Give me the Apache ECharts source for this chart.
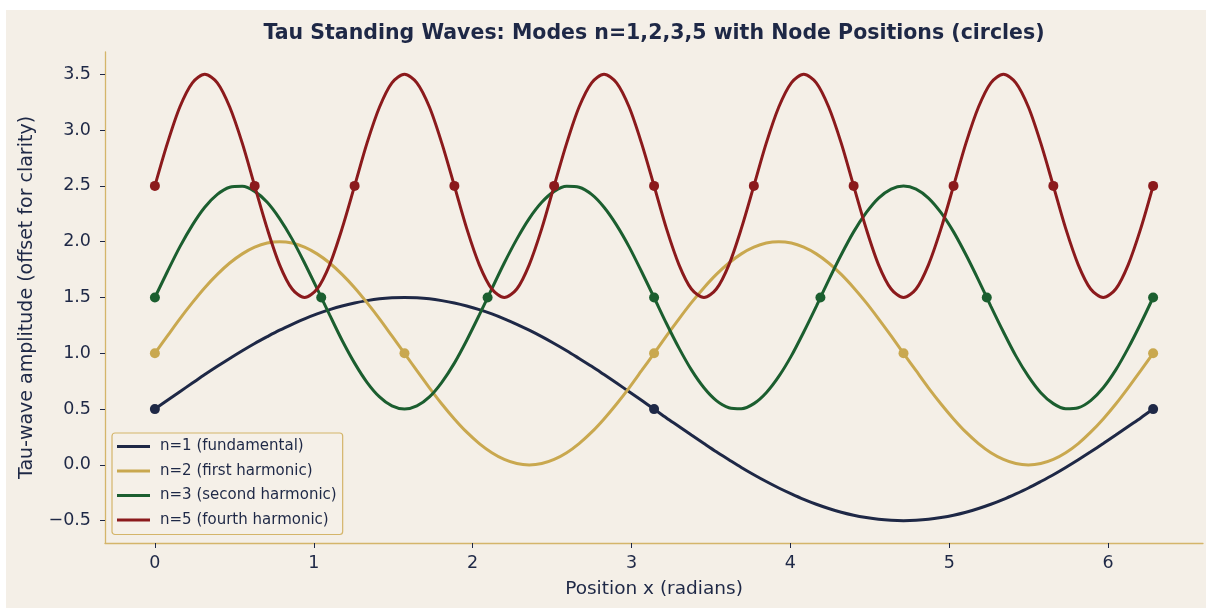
<!DOCTYPE html>
<html>
<head>
<meta charset="utf-8">
<script src="https://cdn.jsdelivr.net/npm/echarts@6/dist/echarts.min.js"></script>
<style>
html,body{margin:0;padding:0;background:#ffffff;}
#chart{position:absolute;left:6px;top:10px;width:1200px;height:598px;}
</style>
</head>
<body>
<div id="chart"></div>
<script>
// Sample positions (radians)
const xs = [0, 0.079, 0.157, 0.236, 0.314, 0.393, 0.471, 0.550, 0.628, 0.707,
  0.785, 0.864, 0.942, 1.021, 1.100, 1.178, 1.257, 1.335, 1.414, 1.492,
  1.571, 1.649, 1.728, 1.806, 1.885, 1.963, 2.042, 2.121, 2.199, 2.278,
  2.356, 2.435, 2.513, 2.592, 2.670, 2.749, 2.827, 2.906, 2.985, 3.063,
  3.142, 3.220, 3.299, 3.377, 3.456, 3.534, 3.613, 3.691, 3.770, 3.848,
  3.927, 4.006, 4.084, 4.163, 4.241, 4.320, 4.398, 4.477, 4.555, 4.634,
  4.712, 4.791, 4.869, 4.948, 5.027, 5.105, 5.184, 5.262, 5.341, 5.419,
  5.498, 5.576, 5.655, 5.733, 5.812, 5.890, 5.969, 6.048, 6.126, 6.205, 6.283];

const n1 = [0.5, 0.579, 0.656, 0.733, 0.809, 0.883, 0.954, 1.023, 1.088, 1.149,
  1.207, 1.260, 1.309, 1.353, 1.391, 1.424, 1.451, 1.472, 1.488, 1.497,
  1.5, 1.497, 1.488, 1.472, 1.451, 1.424, 1.391, 1.353, 1.309, 1.260,
  1.207, 1.149, 1.088, 1.023, 0.954, 0.883, 0.809, 0.733, 0.656, 0.579,
  0.5, 0.421, 0.344, 0.267, 0.191, 0.117, 0.046, -0.023, -0.088, -0.149,
  -0.207, -0.260, -0.309, -0.353, -0.391, -0.424, -0.451, -0.472, -0.488, -0.497,
  -0.5, -0.497, -0.488, -0.472, -0.451, -0.424, -0.391, -0.353, -0.309, -0.260,
  -0.207, -0.149, -0.088, -0.023, 0.046, 0.117, 0.191, 0.267, 0.344, 0.421, 0.5];

const n2 = [1, 1.156, 1.309, 1.454, 1.588, 1.707, 1.809, 1.891, 1.951, 1.988,
  2, 1.988, 1.951, 1.891, 1.809, 1.707, 1.588, 1.454, 1.309, 1.156,
  1, 0.844, 0.691, 0.546, 0.412, 0.293, 0.191, 0.109, 0.049, 0.012,
  0, 0.012, 0.049, 0.109, 0.191, 0.293, 0.412, 0.546, 0.691, 0.844,
  1, 1.156, 1.309, 1.454, 1.588, 1.707, 1.809, 1.891, 1.951, 1.988,
  2, 1.988, 1.951, 1.891, 1.809, 1.707, 1.588, 1.454, 1.309, 1.156,
  1, 0.844, 0.691, 0.546, 0.412, 0.293, 0.191, 0.109, 0.049, 0.012,
  0, 0.012, 0.049, 0.109, 0.191, 0.293, 0.412, 0.546, 0.691, 0.844, 1];

const n3 = [1.5, 1.733, 1.954, 2.149, 2.309, 2.424, 2.488, 2.497, 2.451, 2.353,
  2.207, 2.023, 1.809, 1.579, 1.344, 1.117, 0.912, 0.740, 0.609, 0.528,
  0.5, 0.528, 0.609, 0.740, 0.912, 1.117, 1.344, 1.579, 1.809, 2.023,
  2.207, 2.353, 2.451, 2.497, 2.488, 2.424, 2.309, 2.149, 1.954, 1.733,
  1.5, 1.267, 1.046, 0.851, 0.691, 0.576, 0.512, 0.503, 0.549, 0.647,
  0.793, 0.977, 1.191, 1.421, 1.656, 1.883, 2.088, 2.260, 2.391, 2.472,
  2.5, 2.472, 2.391, 2.260, 2.088, 1.883, 1.656, 1.421, 1.191, 0.977,
  0.793, 0.647, 0.549, 0.503, 0.512, 0.576, 0.691, 0.851, 1.046, 1.267, 1.5];

const n5 = [2.5, 2.883, 3.207, 3.424, 3.5, 3.424, 3.207, 2.883, 2.5, 2.117,
  1.793, 1.576, 1.5, 1.576, 1.793, 2.117, 2.5, 2.883, 3.207, 3.424,
  3.5, 3.424, 3.207, 2.883, 2.5, 2.117, 1.793, 1.576, 1.5, 1.576,
  1.793, 2.117, 2.5, 2.883, 3.207, 3.424, 3.5, 3.424, 3.207, 2.883,
  2.5, 2.117, 1.793, 1.576, 1.5, 1.576, 1.793, 2.117, 2.5, 2.883,
  3.207, 3.424, 3.5, 3.424, 3.207, 2.883, 2.5, 2.117, 1.793, 1.576,
  1.5, 1.576, 1.793, 2.117, 2.5, 2.883, 3.207, 3.424, 3.5, 3.424,
  3.207, 2.883, 2.5, 2.117, 1.793, 1.576, 1.5, 1.576, 1.793, 2.117, 2.5];

// Node positions
const nodes1X = [0, 3.142, 6.283];
const nodes1Y = [0.5, 0.5, 0.5];
const nodes2X = [0, 1.571, 3.142, 4.712, 6.283];
const nodes2Y = [1, 1, 1, 1, 1];
const nodes3X = [0, 1.047, 2.094, 3.142, 4.189, 5.236, 6.283];
const nodes3Y = [1.5, 1.5, 1.5, 1.5, 1.5, 1.5, 1.5];
const nodes5X = [0, 0.628, 1.257, 1.885, 2.513, 3.142, 3.770, 4.398, 5.027, 5.655, 6.283];
const nodes5Y = [2.5, 2.5, 2.5, 2.5, 2.5, 2.5, 2.5, 2.5, 2.5, 2.5, 2.5];

const seriesNames = ['n=1 (fundamental)', 'n=2 (first harmonic)', 'n=3 (second harmonic)', 'n=5 (fourth harmonic)'];
const xTicks = [0, 1, 2, 3, 4, 5, 6];
const yTicks = [-0.5, 0, 0.5, 1, 1.5, 2, 2.5, 3, 3.5];

const colors = ['#1e2846', '#c9a84f', '#1b5e2f', '#8b1a1c'];
const ink = '#1e2846';
const gold = '#d4b56a';
const font = 'DejaVu Sans';

function pairs(xa, ya) { return xa.map((x, i) => [x, ya[i]]); }

const curves = [n1, n2, n3, n5];
const nodeSets = [[nodes1X, nodes1Y], [nodes2X, nodes2Y], [nodes3X, nodes3Y], [nodes5X, nodes5Y]];

const series = [];
curves.forEach((c, i) => {
  series.push({
    name: seriesNames[i], type: 'line', data: pairs(xs, c), smooth: 0.3,
    symbol: 'none', lineStyle: {color: colors[i], width: 3}, itemStyle: {color: colors[i]},
    z: 2 + i * 2, silent: true
  });
  series.push({
    name: seriesNames[i] + ' nodes', type: 'scatter', data: pairs(nodeSets[i][0], nodeSets[i][1]),
    symbol: 'circle', symbolSize: 10, itemStyle: {color: colors[i], opacity: 1},
    z: 3 + i * 2, silent: true
  });
});

const chart = echarts.init(document.getElementById('chart'));
chart.setOption({
  backgroundColor: '#f4efe7',
  animation: false,
  textStyle: {fontFamily: font},
  graphic: [{
    type: 'text', x: 648, y: 24, z: 10,
    style: {text: 'Tau Standing Waves: Modes n=1,2,3,5 with Node Positions (circles)', fontFamily: font,
      fontSize: 20.5, fontWeight: 'bold', fill: ink, textAlign: 'center', textVerticalAlign: 'middle'}
  }],
  grid: {left: 99, right: 3, top: 42, bottom: 65, containLabel: false},
  legend: {
    data: seriesNames, orient: 'vertical', left: 106, top: 423,
    itemWidth: 33, itemHeight: 3, itemGap: 7.5, icon: 'rect',
    backgroundColor: 'rgba(245,240,232,0.85)', borderColor: gold, borderWidth: 1.2, borderRadius: 3,
    padding: [5, 6, 6, 5],
    textStyle: {color: ink, fontSize: 15, lineHeight: 17, fontFamily: font, padding: [0, 0, 0, 5]}
  },
  xAxis: {
    type: 'value', min: -0.314, max: 6.597,
    name: 'Position x (radians)', nameLocation: 'middle', nameGap: 37,
    nameTextStyle: {color: ink, fontSize: 18.5, fontFamily: font},
    axisLine: {show: true, onZero: false, lineStyle: {color: gold, width: 1.3}},
    axisTick: {show: true, length: 5, lineStyle: {color: ink}, customValues: xTicks},
    axisLabel: {color: ink, fontSize: 17.5, margin: 11, customValues: xTicks, formatter: v => String(v)},
    splitLine: {show: false}
  },
  yAxis: {
    type: 'value', min: -0.7, max: 3.7,
    name: 'Tau-wave amplitude (offset for clarity)', nameLocation: 'middle', nameGap: 68,
    nameTextStyle: {color: ink, fontSize: 19, fontFamily: font},
    axisLine: {show: true, onZero: false, lineStyle: {color: gold, width: 1.3}},
    axisTick: {show: true, length: 5, lineStyle: {color: ink}, customValues: yTicks},
    axisLabel: {color: ink, fontSize: 17.5, margin: 14, customValues: yTicks, formatter: v => v.toFixed(1).replace('-', '\u2212')},
    splitLine: {show: false}
  },
  series: series
});
</script>
</body>
</html>
